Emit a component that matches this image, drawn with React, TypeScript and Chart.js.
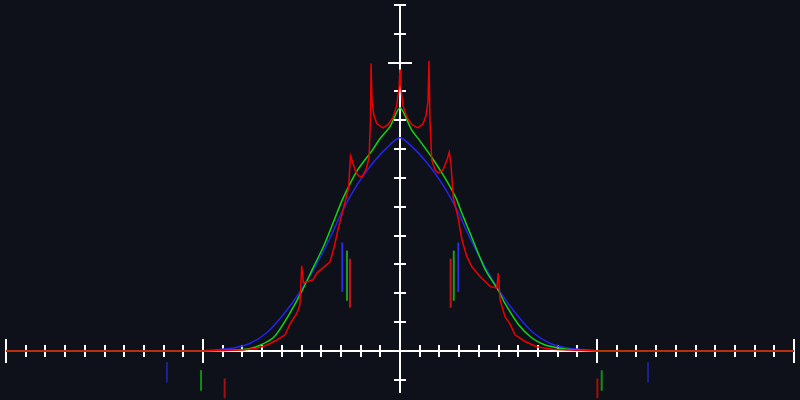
import React, { useEffect, useRef } from "react";
import { Chart, registerables } from "chart.js";

Chart.register(...registerables);

// ---------- data ----------
const redX = [-2, -1.0, -0.797, -0.726, -0.675, -0.624, -0.584, -0.558, -0.523, -0.508, -0.499, -0.49, -0.472, -0.442, -0.421, -0.391, -0.355, -0.335, -0.315, -0.289, -0.274, -0.261, -0.251, -0.244, -0.228, -0.213, -0.193, -0.173, -0.157, -0.15, -0.147, -0.142, -0.132, -0.117, -0.086, -0.061, -0.036, -0.017, -0.005, 0, 0.005, 0.015, 0.036, 0.061, 0.091, 0.117, 0.132, 0.142, 0.147, 0.152, 0.161, 0.178, 0.194, 0.218, 0.239, 0.25, 0.259, 0.271, 0.296, 0.305, 0.315, 0.339, 0.364, 0.406, 0.457, 0.491, 0.499, 0.508, 0.533, 0.558, 0.584, 0.635, 0.694, 0.77, 0.853, 1.0, 2];
const redY = [0, 0, 0.0035, 0.0094, 0.0208, 0.0382, 0.0556, 0.094, 0.132, 0.16, 0.295, 0.236, 0.24, 0.247, 0.271, 0.288, 0.309, 0.358, 0.42, 0.49, 0.531, 0.566, 0.677, 0.663, 0.628, 0.608, 0.604, 0.628, 0.67, 0.802, 0.997, 0.865, 0.816, 0.788, 0.774, 0.785, 0.809, 0.851, 0.91, 0.976, 0.91, 0.851, 0.809, 0.785, 0.774, 0.788, 0.816, 0.865, 1.007, 0.802, 0.663, 0.628, 0.617, 0.628, 0.663, 0.689, 0.646, 0.529, 0.459, 0.42, 0.385, 0.328, 0.293, 0.258, 0.224, 0.218, 0.27, 0.177, 0.119, 0.094, 0.056, 0.033, 0.015, 0.006, 0.003, 0, 0];

const greenX = [-2, -1.05, -0.95, -0.85, -0.76, -0.71, -0.645, -0.61, -0.558, -0.5, -0.44, -0.39, -0.345, -0.289, -0.218, -0.142, -0.102, -0.051, 0, 0.059, 0.102, 0.161, 0.203, 0.254, 0.288, 0.313, 0.355, 0.431, 0.499, 0.533, 0.6, 0.668, 0.736, 0.82, 0.9, 1.0, 2];
const greenY = [0, 0, 0.0005, 0.003, 0.009, 0.02, 0.045, 0.075, 0.132, 0.205, 0.29, 0.36, 0.435, 0.53, 0.625, 0.695, 0.736, 0.778, 0.844, 0.767, 0.728, 0.672, 0.628, 0.57, 0.525, 0.48, 0.41, 0.285, 0.21, 0.165, 0.093, 0.046, 0.021, 0.009, 0.003, 0.0005, 0];

const blueX = [-2, -1.1, -1.0, -0.93, -0.85, -0.76, -0.675, -0.594, -0.508, -0.431, -0.355, -0.289, -0.218, -0.137, -0.051, 0, 0.051, 0.137, 0.218, 0.289, 0.355, 0.431, 0.508, 0.594, 0.675, 0.76, 0.85, 0.93, 1.0, 1.1, 2];
const blueY = [0, 0, 0.001, 0.004, 0.01, 0.027, 0.064, 0.125, 0.205, 0.292, 0.392, 0.49, 0.576, 0.653, 0.715, 0.74, 0.715, 0.653, 0.576, 0.49, 0.392, 0.292, 0.205, 0.125, 0.064, 0.027, 0.01, 0.004, 0.001, 0, 0];

// marker segments: x position, start value, end value, colour
const segX = [-0.293, 0.296, -0.269, 0.273, -0.254, 0.257, -1.183, 1.259, -1.01, 1.024, -0.89, 1.002];
const segY0 = [0.205, 0.205, 0.174, 0.174, 0.15, 0.15, -0.039, -0.039, -0.067, -0.067, -0.095, -0.095];
const segY1 = [0.376, 0.376, 0.348, 0.348, 0.32, 0.32, -0.109, -0.109, -0.138, -0.138, -0.164, -0.164];
const segColor = ["#2b2bec", "#2b2bec", "#1c9e1c", "#1c9e1c", "#c41414", "#c41414", "#1f1f96", "#1f1f96", "#128e12", "#128e12", "#a80c0c", "#a80c0c"];

// axis ticks
const xMinorTicks = [-1.9, -1.8, -1.7, -1.6, -1.5, -1.4, -1.3, -1.2, -1.1, -0.9, -0.8, -0.7, -0.6, -0.5, -0.4, -0.3, -0.2, -0.1, 0.1, 0.2, 0.3, 0.4, 0.5, 0.6, 0.7, 0.8, 0.9, 1.1, 1.2, 1.3, 1.4, 1.5, 1.6, 1.7, 1.8, 1.9];
const xMajorTicks = [-2, -1, 1, 2];
const yMinorTicks = [-0.1, 0.1, 0.2, 0.3, 0.4, 0.5, 0.6, 0.7, 0.8, 0.9, 1.1, 1.2];
const yMajorTicks = [1.0];
const xAxisRange = [-2, 2];
const yAxisRange = [-0.145, 1.2];

const BG = "#0e1119";

const axesPlugin = {
  id: "crossAxes",
  beforeDatasetsDraw(chart: any) {
    const { ctx, scales } = chart;
    const xs = scales.x;
    const ys = scales.y;
    const px = (v: number) => Math.round(xs.getPixelForValue(v));
    const py = (v: number) => Math.round(ys.getPixelForValue(v));
    const x0 = px(0);
    const y0 = py(0);
    ctx.save();
    ctx.strokeStyle = "#ffffff";
    ctx.lineWidth = 2;
    ctx.beginPath();
    ctx.moveTo(px(xAxisRange[0]), y0);
    ctx.lineTo(px(xAxisRange[1]), y0);
    ctx.moveTo(x0, py(yAxisRange[0]));
    ctx.lineTo(x0, py(yAxisRange[1]));
    xMinorTicks.forEach((t) => {
      ctx.moveTo(px(t), y0 - 6);
      ctx.lineTo(px(t), y0 + 6);
    });
    xMajorTicks.forEach((t) => {
      ctx.moveTo(px(t), y0 - 12);
      ctx.lineTo(px(t), y0 + 12);
    });
    yMinorTicks.forEach((t) => {
      ctx.moveTo(x0 - 6, py(t));
      ctx.lineTo(x0 + 6, py(t));
    });
    yMajorTicks.forEach((t) => {
      ctx.moveTo(x0 - 12, py(t));
      ctx.lineTo(x0 + 12, py(t));
    });
    ctx.stroke();
    ctx.restore();
  },
};

const pts = (xs: number[], ys: number[]) => xs.map((x, i) => ({ x, y: ys[i] }));

export default function App() {
  const ref = useRef<HTMLCanvasElement | null>(null);
  useEffect(() => {
    if (!ref.current) return;
    const segDatasets = segX.map((x, i) => ({
      data: [
        { x, y: segY0[i] },
        { x, y: segY1[i] },
      ],
      borderColor: segColor[i],
      borderWidth: 2,
      pointRadius: 0,
      clip: false as any,
    }));
    const chart = new Chart(ref.current, {
      type: "line",
      data: {
        datasets: [
          {
            data: pts(redX, redY),
            borderColor: "#ee0000",
            borderWidth: 1.5,
            pointRadius: 0,
            tension: 0,
          },
          {
            data: pts(greenX, greenY),
            borderColor: "#10d810",
            borderWidth: 1.5,
            pointRadius: 0,
            tension: 0.25,
          },
          {
            data: pts(blueX, blueY),
            borderColor: "#2424ee",
            borderWidth: 1.5,
            pointRadius: 0,
            cubicInterpolationMode: "monotone",
          },
          ...segDatasets,
        ] as any,
      },
      options: {
        animation: false,
        responsive: false,
        layout: { padding: { left: 6, right: 6, top: 5, bottom: 0 } },
        plugins: { legend: { display: false }, tooltip: { enabled: false } },
        scales: {
          x: { type: "linear", min: -2, max: 2, display: false },
          y: { type: "linear", min: -0.17, max: 1.2, display: false },
        },
      },
      plugins: [axesPlugin],
    });
    return () => chart.destroy();
  }, []);
  return (
    <div style={{ position: "fixed", left: 0, top: 0, width: 800, height: 400, background: BG }}>
      <canvas ref={ref} width={800} height={400} style={{ display: "block" }} />
    </div>
  );
}
